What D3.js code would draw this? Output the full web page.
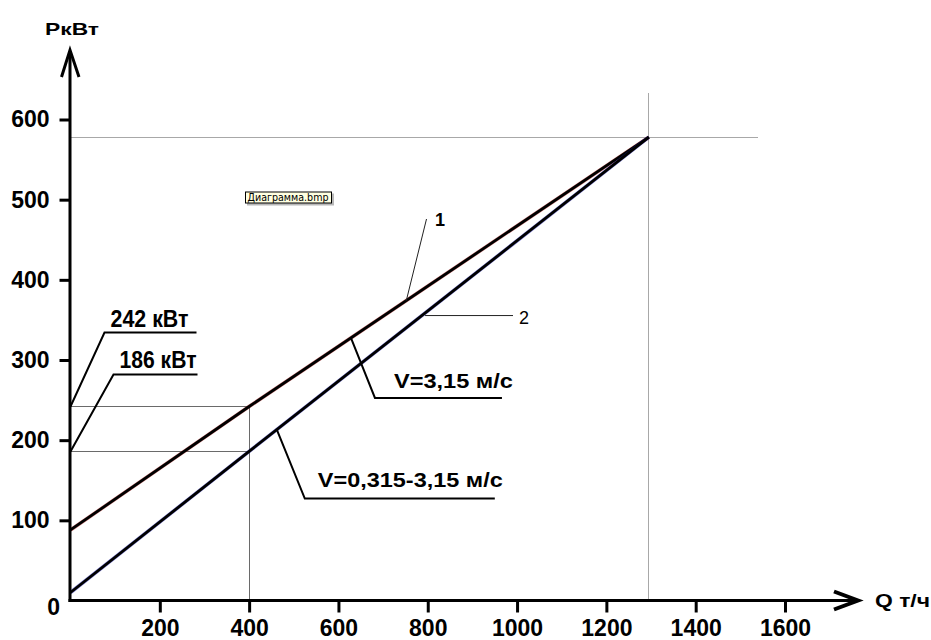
<!DOCTYPE html>
<html><head><meta charset="utf-8">
<script src="https://cdn.jsdelivr.net/npm/d3@7"></script>
<style>
body{margin:0;background:#fff;}
svg{display:block;font-family:"Liberation Sans",Arial,sans-serif;}
</style></head><body>
<svg id="chart" width="931" height="640"></svg>
<script>
// Power P (кВт) versus conveyor throughput Q (т/ч)
const qTicks = [200, 400, 600, 800, 1000, 1200, 1400, 1600];
const pTicks = [100, 200, 300, 400, 500, 600];
const qPoints = [0, 400, 1295];
const line1P = [88, 242, 578];   // 1: V=3,15 м/с
const line2P = [10, 186, 578];   // 2: V=0,315-3,15 м/с
const qRef = 400;
const pRef = [242, 186];
const qTop = 1295, pTop = 578;

const svg = d3.select("#chart");
const x = d3.scaleLinear().domain([0, 1600]).range([70.5, 785]);
const y = d3.scaleLinear().domain([0, 600]).range([600.5, 119.5]);
const X0 = x(0), Y0 = y(0);

// linear read-out along a series
function along(ps, qv) {
  for (let i = 1; i < qPoints.length; i++) {
    if (qv <= qPoints[i]) {
      const t = (qv - qPoints[i - 1]) / (qPoints[i] - qPoints[i - 1]);
      return ps[i - 1] + t * (ps[i] - ps[i - 1]);
    }
  }
  return ps[ps.length - 1];
}

// guide lines
const g = svg.append("g").attr("fill", "none").attr("shape-rendering", "crispEdges");
g.append("line").attr("x1", X0).attr("x2", x(1540)).attr("y1", y(pTop)).attr("y2", y(pTop))
  .attr("stroke", "#a8a8a8").attr("stroke-width", 1);
g.append("line").attr("x1", x(qTop)).attr("x2", x(qTop)).attr("y1", y(633)).attr("y2", Y0)
  .attr("stroke", "#a8a8a8").attr("stroke-width", 1);
g.append("line").attr("x1", x(qRef)).attr("x2", x(qRef)).attr("y1", y(pRef[0])).attr("y2", Y0)
  .attr("stroke", "#6a6a6a").attr("stroke-width", 1);
pRef.forEach(v => {
  g.append("line").attr("x1", X0).attr("x2", x(qRef)).attr("y1", y(v)).attr("y2", y(v))
    .attr("stroke", "#6a6a6a").attr("stroke-width", 1);
});

// series lines
const lineGen = d3.line().x(d => x(d[0])).y(d => y(d[1]));
const s1 = qPoints.map((qv, i) => [qv, line1P[i]]);
const s2 = qPoints.map((qv, i) => [qv, line2P[i]]);
[[s1, "#b01818"], [s2, "#1a1ab0"]].forEach(([s, tint]) => {
  svg.append("path").datum(s).attr("d", lineGen).attr("fill", "none")
    .attr("stroke", tint).attr("stroke-width", 3.6).attr("stroke-opacity", 0.55);
  svg.append("path").datum(s).attr("d", lineGen).attr("fill", "none")
    .attr("stroke", "#000").attr("stroke-width", 2.8);
});

// axes
const xAxis = svg.append("g").attr("transform", `translate(0,${Y0})`)
  .call(d3.axisBottom(x).tickValues(qTicks).tickFormat(d3.format("d")).tickSize(12).tickPadding(7));
const yAxis = svg.append("g").attr("transform", `translate(${X0},0)`)
  .call(d3.axisLeft(y).tickValues(pTicks).tickFormat(d3.format("d")).tickSize(11).tickPadding(10));
[xAxis, yAxis].forEach(a => {
  a.select(".domain").remove();
  a.selectAll(".tick line").attr("stroke", "#000").attr("stroke-width", 3);
  a.selectAll(".tick text").attr("fill", "#000")
    .style("font-size", "23px").style("font-weight", "bold")
    .style("font-family", '"Liberation Sans", Arial, sans-serif');
});
svg.append("text").attr("x", 60).attr("y", 615).attr("text-anchor", "end")
  .style("font-size", "23px").style("font-weight", "bold").text("0");

svg.append("line").attr("x1", X0 - 0.5).attr("x2", X0 - 0.5).attr("y1", Y0 + 1.5).attr("y2", 51)
  .attr("stroke", "#000").attr("stroke-width", 3);
svg.append("polyline").attr("points", `${X0 - 9},77 ${X0 - 0.5},50 ${X0 + 8.5},77`)
  .attr("fill", "none").attr("stroke", "#000").attr("stroke-width", 3);
svg.append("line").attr("x1", X0 - 2).attr("x2", 857).attr("y1", Y0).attr("y2", Y0)
  .attr("stroke", "#000").attr("stroke-width", 3);
svg.append("polyline").attr("points", `834,591.5 858,600.5 834,609.5`)
  .attr("fill", "none").attr("stroke", "#000").attr("stroke-width", 4);

svg.append("text").attr("x", 45).attr("y", 34.5)
  .attr("textLength", 54).attr("lengthAdjust", "spacingAndGlyphs")
  .style("font-size", "17px").style("font-weight", "bold").text("РкВт");
svg.append("text").attr("x", 875).attr("y", 607)
  .attr("textLength", 55).attr("lengthAdjust", "spacingAndGlyphs")
  .style("font-size", "19px").style("font-weight", "bold").text("Q т/ч");

// callouts with elbow leaders
function callout(ax, ay, ex, ey, len, text, tx, ty, tw, fs) {
  svg.append("polyline")
    .attr("points", `${ax},${ay} ${ax + ex},${ay + ey} ${ax + ex + len},${ay + ey}`)
    .attr("fill", "none").attr("stroke", "#000").attr("stroke-width", 2);
  svg.append("text").attr("x", ax + ex + tx).attr("y", ay + ey + ty)
    .attr("textLength", tw).attr("lengthAdjust", "spacingAndGlyphs")
    .style("font-size", fs + "px").style("font-weight", "bold").text(text);
}
callout(X0, y(pRef[0]), 34, -74, 92, pRef[0] + " кВт", 6, -5.5, 78, 23);
callout(X0, y(pRef[1]), 43, -77, 84, pRef[1] + " кВт", 6, -6, 77, 23);
const q3 = 628, q4 = 462;
callout(x(q3), y(along(line1P, q3)), 24, 60, 127, "V=3,15 м/с", 19, -10, 119, 21);
callout(x(q4), y(along(line2P, q4)), 28, 69, 190, "V=0,315-3,15 м/с", 13, -11.5, 185, 21);

// series numbers
const q1 = 752;
svg.append("line").attr("x1", x(q1)).attr("y1", y(along(line1P, q1)))
  .attr("x2", 426.5).attr("y2", 219).attr("stroke", "#222").attr("stroke-width", 1);
svg.append("text").attr("x", 435).attr("y", 225.5)
  .style("font-size", "18px").style("font-weight", "bold").text("1");
const q2 = 794;
svg.append("line").attr("x1", x(q2)).attr("x2", 513).attr("y1", y(along(line2P, q2)) + 2.5)
  .attr("y2", y(along(line2P, q2)) + 2.5).attr("stroke", "#222").attr("stroke-width", 1);
svg.append("text").attr("x", 519).attr("y", 323.5)
  .style("font-size", "18px").style("font-weight", "normal").text("2");

// file tooltip
const tip = svg.append("g").attr("transform", "translate(245,191.5)");
tip.append("rect").attr("x", 2).attr("y", 2).attr("width", 87).attr("height", 12)
  .attr("fill", "#9a9a9a").attr("opacity", 0.7);
tip.append("rect").attr("x", 0.5).attr("y", 0.5).attr("width", 86).attr("height", 11)
  .attr("fill", "#ffffe1").attr("stroke", "#000").attr("stroke-width", 1);
tip.append("text").attr("x", 2.5).attr("y", 9.5).attr("textLength", 81).attr("lengthAdjust", "spacingAndGlyphs")
  .style("font-size", "10.5px").style("font-family", '"DejaVu Sans", sans-serif').text("Диаграмма.bmp");
</script>
</body></html>
